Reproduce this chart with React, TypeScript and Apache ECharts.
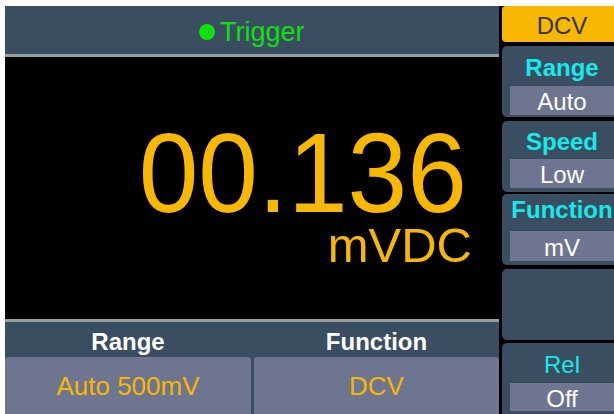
import React, { useEffect, useRef } from "react";
import * as echarts from "echarts";

const statusText = "Trigger";
const reading = "00.136";
const unit = "mVDC";
const modeLabel = "DCV";
const sideTitles = ["Range", "Speed", "Function", "", "Rel"];
const sideValues = ["Auto", "Low", "mV", "", "Off"];
const sideTitleBold = [true, true, true, false, false];
const bottomTitles = ["Range", "Function"];
const bottomValues = ["Auto 500mV", "DCV"];

const FONT = "'Liberation Sans', Arial, sans-serif";
const PANEL = "#3a4d61";
const BOX = "#6e7591";
const YELLOW = "#f8b800";
const CYAN = "#14eaea";
const GREEN = "#10e010";
const LINE = "#95a0a0";

export default function App() {
  const ref = useRef<HTMLDivElement>(null);
  useEffect(() => {
    if (!ref.current) return;
    const chart = echarts.init(ref.current, null, { renderer: "svg" });
    const els: any[] = [];
    // base black
    els.push({ type: "rect", shape: { x: 5, y: 6, width: 609, height: 408 }, style: { fill: "#000" } });
    // top bar
    els.push({ type: "rect", shape: { x: 5, y: 6, width: 494, height: 48 }, style: { fill: PANEL } });
    els.push({ type: "rect", shape: { x: 5, y: 54, width: 494, height: 3 }, style: { fill: LINE } });
    els.push({ type: "circle", shape: { cx: 207, cy: 32, r: 8 }, style: { fill: GREEN } });
    els.push({
      type: "text", x: 220, y: 32,
      style: { text: statusText, fill: GREEN, font: `27px ${FONT}`, textAlign: "left", textVerticalAlign: "middle" },
    });
    // reading
    els.push({
      type: "text", x: 467, y: 229, scaleX: 0.95, originX: 0, originY: 0,
      style: { text: reading, fill: YELLOW, font: `113px ${FONT}`, textAlign: "right", textVerticalAlign: "bottom" },
    });
    els.push({
      type: "text", x: 472, y: 269,
      style: { text: unit, fill: YELLOW, font: `49px ${FONT}`, textAlign: "right", textVerticalAlign: "bottom" },
    });
    // bottom area
    els.push({ type: "rect", shape: { x: 5, y: 319, width: 494, height: 3 }, style: { fill: LINE } });
    els.push({ type: "rect", shape: { x: 5, y: 322, width: 494, height: 92 }, style: { fill: PANEL } });
    const bx = [[5, 246], [254, 245]];
    bottomTitles.forEach((t, i) => {
      const [x, w] = bx[i];
      els.push({ type: "rect", shape: { x, y: 357, width: w, height: 60, r: [3, 3, 0, 0] }, style: { fill: BOX } });
      els.push({
        type: "text", x: x + w / 2, y: 341,
        style: { text: t, fill: "#fff", font: `bold 24px ${FONT}`, textAlign: "center", textVerticalAlign: "middle" },
      });
      els.push({
        type: "text", x: x + w / 2, y: 386,
        style: { text: bottomValues[i], fill: YELLOW, font: `26px ${FONT}`, textAlign: "center", textVerticalAlign: "middle" },
      });
    });
    // right side
    els.push({ type: "rect", shape: { x: 502, y: 6, width: 130, height: 36, r: 4 }, style: { fill: YELLOW } });
    els.push({
      type: "text", x: 562, y: 25,
      style: { text: modeLabel, fill: "#333", font: `24px ${FONT}`, textAlign: "center", textVerticalAlign: "middle" },
    });
    const panelTops = [46, 121, 194, 269, 343];
    const panelH = [71, 71, 71, 71, 80];
    const titleY = [67, 141, 209, 0, 364];
    const valTop = [86, 159, 231, 0, 383];
    const valH = [29, 29, 30, 0, 28];
    sideTitles.forEach((t, i) => {
      els.push({ type: "rect", shape: { x: 502, y: panelTops[i], width: 130, height: panelH[i], r: 5 }, style: { fill: PANEL } });
      if (t) {
        els.push({
          type: "text", x: 562, y: titleY[i],
          style: {
            text: t, fill: CYAN, font: `${sideTitleBold[i] ? "bold " : ""}24px ${FONT}`,
            textAlign: "center", textVerticalAlign: "middle",
          },
        });
      }
      if (sideValues[i]) {
        els.push({ type: "rect", shape: { x: 510, y: valTop[i], width: 110, height: valH[i] }, style: { fill: BOX } });
        els.push({
          type: "text", x: 562, y: valTop[i] + valH[i] / 2 + 1,
          style: { text: sideValues[i], fill: "#fff", font: `24px ${FONT}`, textAlign: "center", textVerticalAlign: "middle" },
        });
      }
    });
    chart.setOption({ animation: false, backgroundColor: "#fff", graphic: { elements: els } });
    return () => chart.dispose();
  }, []);
  return <div ref={ref} style={{ position: "fixed", left: 0, top: 0, width: 614, height: 414 }} />;
}
